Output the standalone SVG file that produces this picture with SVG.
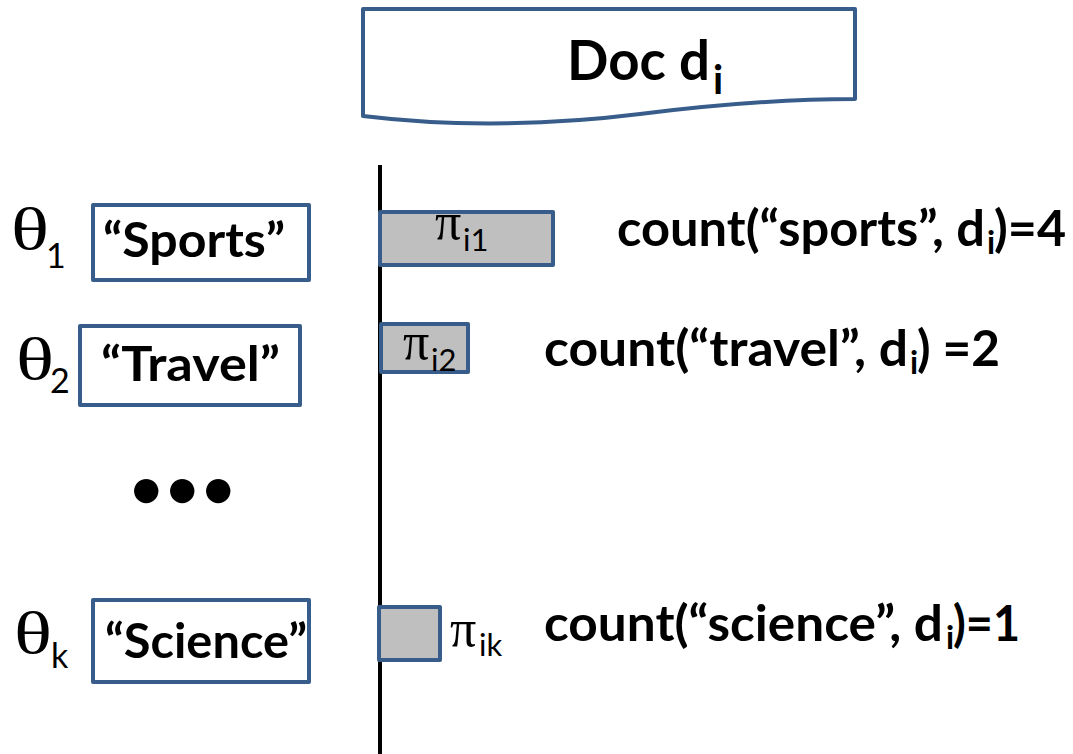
<svg xmlns="http://www.w3.org/2000/svg" width="1073" height="754" viewBox="0 0 1073 754">
<style>
.box{fill:#fff;stroke:#385D8A;stroke-width:4;stroke-linejoin:round}
.bar{fill:#BFBFBF;stroke:#385D8A;stroke-width:4;stroke-linejoin:round}
.lbl{font-family:Lato,"Liberation Sans",sans-serif;font-weight:700;fill:#000}
.cnt{font-family:Lato,"Liberation Sans",sans-serif;font-weight:700;font-size:49px;fill:#000}
.sub{font-family:Lato,"Liberation Sans",sans-serif;font-weight:700;font-size:32px}
.greek{font-family:"Liberation Serif","DejaVu Serif",serif;fill:#000}
.gsub{font-family:Lato,"Liberation Sans",sans-serif;font-weight:400;fill:#000}
</style>
<rect width="1073" height="754" fill="#fff"/>
<g id="axis">
<line x1="380" y1="165" x2="380" y2="754" stroke="#000" stroke-width="4"/>
</g>
<g id="doc">
<path class="box" d="M363,9 H855 V99 C790,99 720,104 640,114 C560,124 460,128 363,116 Z"/>
<text class="lbl" font-size="56"><tspan x="567" y="80" textLength="143" lengthAdjust="spacingAndGlyphs">Doc d</tspan><tspan x="713" y="94" font-size="40">i</tspan></text>
</g>
<g id="topic1">
<text class="greek" font-size="60"><tspan x="11" y="249" textLength="38" lengthAdjust="spacingAndGlyphs">θ</tspan><tspan class="gsub" x="46" y="268" font-size="34">1</tspan></text>
<rect class="box" x="93" y="205" width="216" height="75"/>
<text class="lbl" font-size="48" x="103" y="257" textLength="182" lengthAdjust="spacingAndGlyphs">“Sports”</text>
</g>
<g id="topic2">
<text class="greek" font-size="60"><tspan x="16" y="379" textLength="38" lengthAdjust="spacingAndGlyphs">θ</tspan><tspan class="gsub" x="50" y="393" font-size="34">2</tspan></text>
<rect class="box" x="80" y="326" width="220" height="79"/>
<text class="lbl" font-size="48" x="101" y="381" textLength="179" lengthAdjust="spacingAndGlyphs">“Travel”</text>
</g>
<g id="ellipsis">
<text class="lbl" font-size="56" x="130 166 202" y="508">•••</text>
</g>
<g id="topick">
<text class="greek" font-size="60"><tspan x="14" y="653" textLength="38" lengthAdjust="spacingAndGlyphs">θ</tspan><tspan class="gsub" x="51" y="668" font-size="34">k</tspan></text>
<rect class="box" x="93" y="600" width="216" height="82"/>
<text class="lbl" font-size="48" x="105" y="658" textLength="202" lengthAdjust="spacingAndGlyphs">“Science”</text>
</g>
<g id="bar1">
<rect class="bar" x="380" y="212" width="173" height="53"/>
<text class="greek" font-size="52"><tspan x="435" y="239">π</tspan><tspan class="gsub" x="463" y="251" font-size="31">i1</tspan></text>
</g>
<g id="bar2">
<rect class="bar" x="381" y="324" width="87" height="48"/>
<text class="greek" font-size="52"><tspan x="403" y="359">π</tspan><tspan class="gsub" x="431" y="371" font-size="31">i2</tspan></text>
</g>
<g id="bark">
<rect class="bar" x="379" y="607" width="61" height="53"/>
<text class="greek" font-size="52"><tspan x="450" y="646">π</tspan><tspan class="gsub" x="479" y="656" font-size="31">ik</tspan></text>
</g>
<g id="count1">
<text class="cnt"><tspan x="617" y="246" textLength="368" lengthAdjust="spacingAndGlyphs">count(“sports”, d</tspan><tspan class="sub" x="987" y="254">i</tspan><tspan x="994" y="246" textLength="72" lengthAdjust="spacingAndGlyphs">)=4</tspan></text>
</g>
<g id="count2">
<text class="cnt"><tspan x="544" y="366" textLength="364" lengthAdjust="spacingAndGlyphs">count(“travel”, d</tspan><tspan class="sub" x="910" y="374">i</tspan><tspan x="917" y="366" textLength="83" lengthAdjust="spacingAndGlyphs">) =2</tspan></text>
</g>
<g id="countk">
<text class="cnt"><tspan x="544" y="641" textLength="399" lengthAdjust="spacingAndGlyphs">count(“science”, d</tspan><tspan class="sub" x="946" y="649">i</tspan><tspan x="953" y="641" textLength="67" lengthAdjust="spacingAndGlyphs">)=1</tspan></text>
</g>
</svg>
